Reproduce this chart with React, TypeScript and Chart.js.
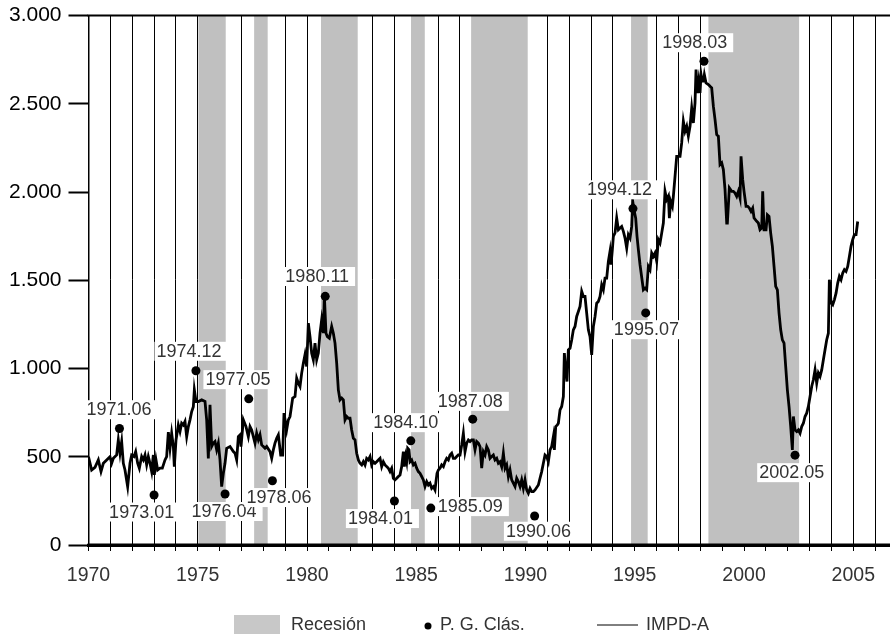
import React, { useEffect, useRef } from "react";
import { Chart, registerables } from "chart.js";

Chart.register(...registerables);

// IMPD-A monthly index: [decimal year, value]
const impdaSeries: [number, number][] = [
  [1970.000, 500], [1970.145, 425], [1970.297, 440], [1970.450, 482], [1970.572, 416], [1970.679, 463],
  [1970.831, 482], [1970.984, 500], [1971.060, 463], [1971.137, 491], [1971.289, 510], [1971.365, 595],
  [1971.442, 520], [1971.518, 586], [1971.594, 463], [1971.670, 425], [1971.792, 331], [1971.899, 463],
  [1971.975, 510], [1972.082, 501], [1972.159, 529], [1972.250, 463], [1972.326, 435], [1972.433, 501],
  [1972.510, 482], [1972.586, 510], [1972.662, 454], [1972.738, 501], [1972.815, 463], [1972.891, 416],
  [1972.967, 510], [1973.013, 397], [1973.089, 482], [1973.166, 425], [1973.272, 435], [1973.379, 435],
  [1973.501, 482], [1973.577, 501], [1973.654, 640], [1973.730, 548], [1973.806, 633], [1973.883, 558],
  [1973.928, 444], [1974.005, 595], [1974.111, 680], [1974.188, 643], [1974.264, 690], [1974.340, 680],
  [1974.416, 700], [1974.493, 614], [1974.569, 671], [1974.645, 709], [1974.722, 756], [1974.798, 784],
  [1974.844, 879], [1974.920, 813],
  [1975.027, 813], [1975.179, 822], [1975.332, 813], [1975.408, 709], [1975.484, 491], [1975.561, 794],
  [1975.637, 558], [1975.713, 577], [1975.789, 586], [1975.866, 539], [1975.942, 577], [1976.018, 482],
  [1976.094, 331], [1976.171, 406], [1976.247, 463], [1976.323, 548], [1976.476, 558], [1976.629, 529],
  [1976.705, 520], [1976.781, 482], [1976.857, 614], [1976.934, 624], [1976.979, 558], [1977.086, 709],
  [1977.208, 671], [1977.315, 614], [1977.391, 671], [1977.467, 652], [1977.544, 614], [1977.620, 577],
  [1977.696, 633], [1977.773, 596], [1977.849, 624], [1977.925, 567], [1978.002, 558], [1978.078, 548],
  [1978.154, 558], [1978.307, 529], [1978.383, 491], [1978.459, 539], [1978.535, 577], [1978.612, 605],
  [1978.688, 624], [1978.795, 510], [1978.886, 510], [1978.947, 747], [1979.069, 652], [1979.146, 709],
  [1979.222, 728], [1979.344, 832], [1979.451, 841], [1979.527, 945],
  [1979.603, 917], [1979.680, 898], [1979.756, 974], [1979.832, 1030], [1979.908, 1078], [1979.985, 1011],
  [1980.061, 1257], [1980.137, 1181], [1980.214, 1087], [1980.290, 1049], [1980.366, 1144], [1980.442, 1049],
  [1980.519, 1087], [1980.595, 1200], [1980.671, 1276], [1980.748, 1200], [1980.793, 1418], [1980.869, 1200],
  [1980.931, 1181], [1981.022, 1172], [1981.129, 1238], [1981.205, 1200], [1981.281, 1144], [1981.358, 1030],
  [1981.434, 879], [1981.510, 822], [1981.587, 832], [1981.663, 822], [1981.739, 709], [1981.815, 728],
  [1981.892, 718], [1981.968, 718], [1982.044, 652], [1982.121, 605], [1982.197, 596], [1982.273, 520],
  [1982.350, 482], [1982.426, 463], [1982.502, 454], [1982.579, 473], [1982.655, 454], [1982.731, 491],
  [1982.807, 482], [1982.884, 501],
  [1982.959, 453], [1983.035, 472], [1983.112, 463], [1983.188, 472], [1983.264, 482], [1983.341, 491],
  [1983.417, 444], [1983.493, 472], [1983.570, 454], [1983.646, 444], [1983.722, 435], [1983.799, 416],
  [1983.875, 435], [1983.951, 378], [1984.027, 369], [1984.104, 378], [1984.180, 388], [1984.256, 397],
  [1984.333, 444], [1984.409, 529], [1984.455, 444], [1984.516, 501], [1984.561, 472], [1984.607, 548],
  [1984.668, 539], [1984.714, 472], [1984.790, 482], [1984.867, 454], [1984.943, 463], [1985.019, 435],
  [1985.095, 416], [1985.172, 406], [1985.248, 388], [1985.324, 369], [1985.401, 331], [1985.477, 359],
  [1985.553, 340], [1985.629, 350], [1985.706, 321], [1985.782, 331], [1985.858, 312], [1985.904, 361],
  [1985.950, 406], [1986.011, 425], [1986.087, 435], [1986.163, 454], [1986.240, 444], [1986.316, 472],
  [1986.392, 491], [1986.468, 482], [1986.545, 510], [1986.621, 520], [1986.697, 491], [1986.774, 491],
  [1986.850, 501], [1986.926, 510], [1987.002, 510], [1987.079, 567], [1987.155, 633], [1987.231, 529],
  [1987.308, 577], [1987.384, 595], [1987.460, 586], [1987.536, 595], [1987.613, 595], [1987.689, 539],
  [1987.765, 586], [1987.842, 577], [1987.918, 558], [1987.994, 435], [1988.070, 529], [1988.147, 510],
  [1988.223, 558], [1988.299, 539], [1988.375, 491], [1988.452, 501], [1988.528, 510], [1988.604, 482],
  [1988.681, 491], [1988.757, 463], [1988.833, 472], [1988.909, 444], [1988.986, 520], [1989.062, 435],
  [1989.138, 454], [1989.215, 387], [1989.291, 425], [1989.367, 369], [1989.443, 350], [1989.520, 331],
  [1989.596, 378], [1989.672, 359], [1989.749, 331], [1989.825, 369], [1989.901, 321], [1989.977, 369],
  [1990.053, 312], [1990.130, 293], [1990.206, 321], [1990.282, 302], [1990.359, 302], [1990.435, 312],
  [1990.587, 340], [1990.663, 378], [1990.740, 416], [1990.816, 463], [1990.892, 510], [1990.969, 501],
  [1991.045, 472], [1991.121, 539], [1991.197, 558], [1991.274, 614], [1991.320, 539], [1991.381, 671],
  [1991.457, 680], [1991.503, 690], [1991.579, 766], [1991.655, 785], [1991.732, 841], [1991.777, 1087],
  [1991.838, 992], [1991.899, 926], [1991.960, 1106], [1992.037, 1115], [1992.113, 1162], [1992.189, 1219],
  [1992.265, 1238], [1992.342, 1295], [1992.418, 1323], [1992.494, 1352], [1992.571, 1437], [1992.647, 1408],
  [1992.723, 1408], [1992.799, 1314], [1992.876, 1219], [1992.952, 1181], [1993.028, 1077], [1993.105, 1238],
  [1993.181, 1295], [1993.257, 1370], [1993.333, 1380], [1993.410, 1408], [1993.486, 1474], [1993.562, 1446],
  [1993.638, 1512], [1993.715, 1512], [1993.791, 1607], [1993.867, 1664], [1993.913, 1588], [1993.974, 1673],
  [1994.020, 1749], [1994.096, 1768], [1994.172, 1852], [1994.249, 1786], [1994.325, 1796], [1994.401, 1805],
  [1994.478, 1777], [1994.554, 1739], [1994.630, 1682], [1994.706, 1758], [1994.783, 1739], [1994.859, 1805],
  [1994.905, 1947], [1994.981, 1890], [1995.042, 1852], [1995.103, 1749], [1995.164, 1673], [1995.240, 1588],
  [1995.393, 1446], [1995.469, 1455], [1995.545, 1446], [1995.622, 1578], [1995.698, 1560], [1995.774, 1654],
  [1995.850, 1635], [1995.927, 1654], [1996.003, 1607], [1996.079, 1730], [1996.156, 1711], [1996.232, 1767],
  [1996.308, 1824], [1996.384, 2004], [1996.461, 1957], [1996.537, 1976], [1996.583, 1852], [1996.644, 1947],
  [1996.720, 1919], [1996.766, 1976], [1996.842, 2089], [1996.918, 2202], [1996.995, 2202], [1997.071, 2202],
  [1997.147, 2278], [1997.223, 2401], [1997.300, 2344], [1997.376, 2372], [1997.452, 2316], [1997.529, 2372],
  [1997.605, 2476], [1997.681, 2391], [1997.757, 2505], [1997.803, 2694], [1997.864, 2561], [1997.925, 2628],
  [1997.986, 2561], [1998.032, 2665], [1998.078, 2628], [1998.139, 2628], [1998.184, 2665], [1998.261, 2618],
  [1998.368, 2609], [1998.444, 2599], [1998.520, 2590], [1998.596, 2486], [1998.673, 2410], [1998.749, 2325],
  [1998.825, 2316], [1998.901, 2155], [1998.978, 2165], [1999.054, 2127], [1999.130, 2013], [1999.207, 1824],
  [1999.237, 1824], [1999.328, 2023], [1999.435, 2004], [1999.512, 2004], [1999.588, 1994], [1999.664, 1975],
  [1999.741, 2004], [1999.817, 1966], [1999.863, 2202], [1999.939, 2070], [2000.000, 2004], [2000.092, 1919],
  [2000.168, 1919], [2000.244, 1909], [2000.320, 1890], [2000.397, 1909], [2000.458, 1853], [2000.519, 1843],
  [2000.580, 1834], [2000.656, 1824], [2000.732, 1786], [2000.809, 1796], [2000.854, 2004], [2000.915, 1786],
  [2001.007, 1786], [2001.068, 1871], [2001.144, 1862], [2001.220, 1767], [2001.297, 1692], [2001.373, 1578],
  [2001.449, 1465], [2001.526, 1446], [2001.602, 1314], [2001.678, 1219], [2001.754, 1162], [2001.831, 1144],
  [2001.907, 1011], [2001.983, 879], [2002.060, 784], [2002.136, 671], [2002.212, 539], [2002.258, 728],
  [2002.334, 652], [2002.410, 643], [2002.487, 652], [2002.563, 633], [2002.639, 671], [2002.716, 690],
  [2002.792, 728], [2002.868, 747], [2002.944, 785], [2003.021, 841], [2003.097, 898], [2003.173, 936],
  [2003.250, 992], [2003.326, 917], [2003.402, 974], [2003.478, 955], [2003.555, 992], [2003.631, 1049],
  [2003.707, 1106], [2003.784, 1163], [2003.860, 1200], [2003.905, 1503], [2003.982, 1371], [2004.058, 1361],
  [2004.134, 1389], [2004.211, 1427], [2004.287, 1484], [2004.363, 1522], [2004.439, 1503], [2004.516, 1541],
  [2004.592, 1560], [2004.668, 1550], [2004.745, 1578], [2004.821, 1635], [2004.897, 1692], [2004.973, 1730],
  [2005.050, 1758], [2005.126, 1758], [2005.202, 1833],
];

// Classical peaks and troughs (P. G. Clás.)
const turningPointDates = [
  "1971.06", "1973.01", "1974.12", "1976.04", "1977.05", "1978.06", "1980.11", "1984.01",
  "1984.10", "1985.09", "1987.08", "1990.06", "1994.12", "1995.07", "1998.03", "2002.05",
];
const turningPointValues = [
  660, 283, 987, 289, 828, 364, 1409, 249,
  590, 209, 713, 164, 1906, 1315, 2741, 509,
];

// Recession periods (decimal years)
const recessionStart = [1975.03, 1977.58, 1980.64, 1984.76, 1987.51, 1994.83, 1998.37];
const recessionEnd = [1976.28, 1978.2, 1982.32, 1985.39, 1990.1, 1995.59, 2002.52];

const xMin = 1970;
const xMax = 2006.68;
const yMin = 0;
const yMax = 3000;
const yStep = 500;
const xLabelEvery = 5;

const legendLabels = ["Recesión", "P. G. Clás.", "IMPD-A"];

// label placement relative to its dot, in px (style)
const labelOffsets: [number, number][] = [
  [-0.5, -18.3], [-12.4, 17.5], [-7, -19], [-1, 18], [-10.8, -18.7], [6.5, 17.3], [-8, -19.3], [-14, 18],
  [-5, -17.7], [39.5, -1], [-2.4, -17.3], [3.8, 15.7], [-13.5, -18.3], [0.7, 17.3], [-9.3, -18], [-3.3, 18],
];

const BAND = "#c0c0c0";
const TEXT = "#333333";
const FONT = "'Liberation Sans', Arial, sans-serif";

function dateToYear(s: string): number {
  const [y, m] = s.split(".");
  return Number(y) + (Number(m) - 1) / 12;
}

function fmtThousands(v: number): string {
  return String(v).replace(/\B(?=(\d{3})+(?!\d))/g, ".");
}

const bandsPlugin = {
  id: "recessionBands",
  beforeDatasetsDraw(chart: any) {
    const { ctx, chartArea, scales } = chart;
    const { left, right, top, bottom } = chartArea;
    const x = scales.x;
    ctx.save();
    ctx.fillStyle = BAND;
    recessionStart.forEach((s, i) => {
      const x1 = x.getPixelForValue(s);
      const x2 = x.getPixelForValue(recessionEnd[i]);
      ctx.fillRect(x1, top, x2 - x1, bottom - top);
    });
    ctx.strokeStyle = "#000";
    ctx.lineWidth = 2;
    ctx.beginPath();
    ctx.moveTo(left - 1, top);
    ctx.lineTo(right, top);
    ctx.stroke();
    ctx.lineWidth = 3;
    ctx.beginPath();
    ctx.moveTo(left - 1, bottom);
    ctx.lineTo(right, bottom);
    ctx.stroke();
    ctx.restore();
  },
};

const labelsPlugin = {
  id: "turningLabels",
  afterDatasetsDraw(chart: any) {
    const { ctx, scales } = chart;
    ctx.save();
    ctx.font = `18px ${FONT}`;
    ctx.textAlign = "center";
    ctx.textBaseline = "middle";
    turningPointDates.forEach((d, i) => {
      const px = scales.x.getPixelForValue(dateToYear(d));
      const py = scales.y.getPixelForValue(turningPointValues[i]);
      const [dx, dy] = labelOffsets[i];
      const cx = px + dx;
      const cy = py + dy;
      const w = ctx.measureText(d).width;
      ctx.fillStyle = "#fff";
      ctx.fillRect(cx - w / 2 - 2, cy - 10, w + 8, 19);
      ctx.fillStyle = TEXT;
      ctx.fillText(d, cx, cy);
    });
    ctx.restore();
  },
};

const legendPlugin = {
  id: "customLegend",
  afterDraw(chart: any) {
    const { ctx } = chart;
    const cy = 625;
    ctx.save();
    ctx.font = `18px ${FONT}`;
    ctx.textBaseline = "middle";
    ctx.textAlign = "left";
    // Recesión
    ctx.fillStyle = "#c8c8c8";
    ctx.fillRect(234, 615, 46, 19);
    ctx.fillStyle = TEXT;
    ctx.fillText(legendLabels[0], 291, cy);
    // P. G. Clás.
    ctx.fillStyle = "#000";
    ctx.beginPath();
    ctx.arc(428, cy + 1, 3.5, 0, Math.PI * 2);
    ctx.fill();
    ctx.fillStyle = TEXT;
    ctx.fillText(legendLabels[1], 440, cy);
    // IMPD-A
    ctx.strokeStyle = "#000";
    ctx.lineWidth = 1;
    ctx.beginPath();
    ctx.moveTo(597, cy);
    ctx.lineTo(638, cy);
    ctx.stroke();
    ctx.fillStyle = TEXT;
    ctx.fillText(legendLabels[2], 646, cy);
    ctx.restore();
  },
};

export default function App() {
  const canvasRef = useRef<HTMLCanvasElement | null>(null);

  useEffect(() => {
    const canvas = canvasRef.current;
    if (!canvas) return;
    const dots = turningPointDates.map((d, i) => ({ x: dateToYear(d), y: turningPointValues[i] }));
    const linePts = impdaSeries.map(([x, y]) => ({ x, y }));

    const chart = new Chart(canvas, {
      type: "scatter",
      data: {
        datasets: [
          {
            type: "scatter",
            label: legendLabels[1],
            data: dots,
            pointRadius: 4.5,
            pointHoverRadius: 4.5,
            pointBackgroundColor: "#000",
            pointBorderWidth: 0,
            order: 0,
          } as any,
          {
            type: "line",
            label: legendLabels[2],
            data: linePts,
            borderColor: "#000",
            borderWidth: 2.8,
            pointRadius: 0,
            pointHoverRadius: 0,
            tension: 0,
            fill: false,
            order: 1,
          } as any,
        ],
      },
      options: {
        responsive: false,
        animation: false,
        events: [],
        layout: { autoPadding: false, padding: { left: 0, right: 0, top: 15.5, bottom: 0 } },
        plugins: { legend: { display: false }, tooltip: { enabled: false } },
        scales: {
          x: {
            type: "linear",
            min: xMin,
            max: xMax,
            afterFit: (s: any) => {
              s.height = 92;
              s.paddingLeft = 0;
              s.paddingRight = 0;
            },
            ticks: {
              stepSize: 1,
              includeBounds: false,
              autoSkip: false,
              maxRotation: 0,
              minRotation: 0,
              maxTicksLimit: 100,
              callback: (v: any) => (Number(v) % xLabelEvery === 0 ? String(v) : ""),
              font: { family: FONT, size: 19.5 },
              color: TEXT,
              padding: 13,
            },
            grid: { color: "#000", lineWidth: 1, tickLength: 6, drawTicks: true, drawOnChartArea: true },
            border: { display: true, color: "#000", width: 3 },
          },
          y: {
            type: "linear",
            min: yMin,
            max: yMax,
            afterFit: (s: any) => {
              s.width = 88.5;
              s.paddingTop = 0;
              s.paddingBottom = 0;
            },
            ticks: {
              stepSize: yStep,
              callback: (v: any) => fmtThousands(Number(v)),
              font: { family: FONT, size: 21 },
              color: "#000",
              padding: 7,
            },
            grid: { drawOnChartArea: false, drawTicks: true, tickLength: 20, tickColor: "#000", tickWidth: 2 },
            border: { display: true, color: "#000", width: 1.5 },
          },
        },
      } as any,
      plugins: [bandsPlugin, labelsPlugin, legendPlugin],
    });
    return () => chart.destroy();
  }, []);

  return (
    <div style={{ position: "absolute", left: 0, top: 0, width: 890, height: 637, background: "#fff" }}>
      <canvas ref={canvasRef} width={890} height={637} style={{ display: "block", width: 890, height: 637 }} />
    </div>
  );
}
